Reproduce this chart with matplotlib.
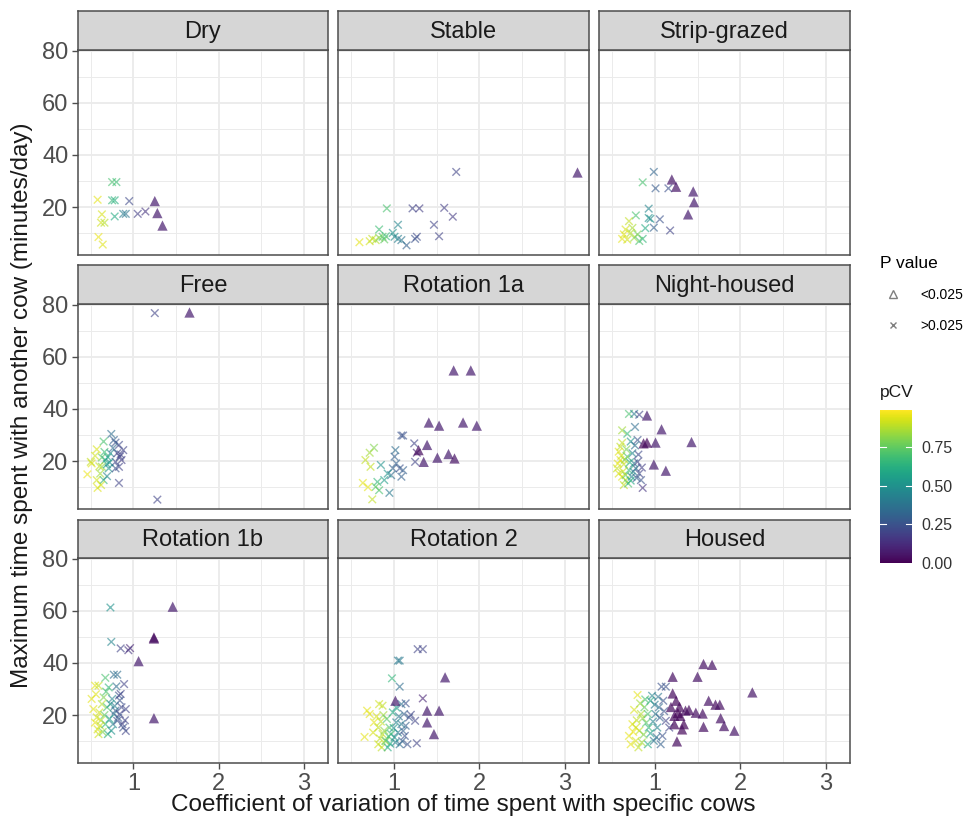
import matplotlib
matplotlib.use("Agg")
import matplotlib.pyplot as plt
from matplotlib.colors import Normalize
from matplotlib.cm import ScalarMappable
from matplotlib.lines import Line2D

plt.rcParams['font.family'] = ['Liberation Sans', 'DejaVu Sans']

# each point: (coefficient of variation, max minutes/day, pCV, significant)
dry = [(0.58, 22.8, 0.95, 0), (0.63, 17.2, 0.93, 0), (0.62, 14.0, 0.92, 0), (0.66, 14.0, 0.88, 0),
       (0.59, 8.5, 0.96, 0), (0.64, 5.6, 0.94, 0), (0.75, 29.6, 0.70, 0), (0.80, 29.6, 0.68, 0),
       (0.75, 22.6, 0.66, 0), (0.78, 22.6, 0.62, 0), (0.78, 16.4, 0.60, 0), (0.88, 17.4, 0.42, 0),
       (0.91, 17.4, 0.38, 0), (0.95, 22.3, 0.22, 0), (1.05, 17.4, 0.18, 0), (1.14, 18.3, 0.15, 0),
       (1.25, 22.3, 0.08, 1), (1.28, 17.7, 0.08, 1), (1.34, 12.9, 0.08, 1)]

stable = [(3.14, 33.6, 0.08, 1), (1.73, 33.5, 0.20, 0), (0.92, 19.5, 0.70, 0), (1.22, 19.5, 0.20, 0),
          (1.30, 19.5, 0.18, 0), (1.59, 19.7, 0.18, 0), (1.69, 16.3, 0.17, 0), (1.47, 13.2, 0.20, 0),
          (1.05, 13.2, 0.45, 0), (0.83, 11.4, 0.68, 0), (1.53, 8.8, 0.20, 0), (1.27, 8.6, 0.22, 0),
          (1.25, 7.8, 0.25, 0), (1.15, 5.3, 0.30, 0), (0.60, 6.5, 0.95, 0), (0.72, 6.9, 0.92, 0),
          (0.75, 7.8, 0.90, 0), (0.79, 7.3, 0.88, 0), (0.83, 8.2, 0.80, 0), (0.87, 8.6, 0.72, 0),
          (0.91, 8.8, 0.66, 0), (0.99, 10.1, 0.50, 0), (1.01, 8.6, 0.48, 0), (1.05, 7.8, 0.42, 0),
          (1.09, 7.3, 0.38, 0), (0.89, 7.6, 0.75, 0)]

strip_grazed = [(0.99, 33.5, 0.32, 0), (0.86, 29.5, 0.70, 0), (1.01, 27.2, 0.28, 0), (1.16, 27.2, 0.24, 0),
                (1.20, 30.6, 0.06, 1), (1.25, 27.8, 0.06, 1), (1.45, 26.0, 0.08, 1), (1.46, 21.9, 0.08, 1),
                (1.39, 17.2, 0.08, 1), (0.93, 19.4, 0.45, 0), (0.93, 15.8, 0.50, 0), (0.95, 15.5, 0.48, 0),
                (1.06, 15.3, 0.25, 0), (0.99, 12.1, 0.30, 0), (1.18, 11.0, 0.20, 0), (0.89, 11.9, 0.60, 0),
                (0.86, 7.8, 0.65, 0), (0.78, 16.8, 0.70, 0), (0.62, 7.8, 0.95, 0), (0.66, 11.4, 0.93, 0),
                (0.70, 14.6, 0.90, 0), (0.64, 9.5, 0.94, 0), (0.72, 10.1, 0.88, 0), (0.74, 12.0, 0.86, 0),
                (0.76, 8.2, 0.84, 0), (0.80, 9.5, 0.78, 0), (0.82, 7.0, 0.70, 0), (0.68, 7.5, 0.92, 0)]

free = [(1.25, 76.8, 0.20, 0), (1.65, 77.3, 0.08, 1), (1.28, 5.2, 0.20, 0), (0.74, 30.4, 0.35, 0),
        (0.57, 24.5, 0.93, 0), (0.51, 19.1, 0.95, 0), (0.46, 14.9, 0.96, 0), (0.57, 12.7, 0.92, 0),
        (0.58, 9.7, 0.94, 0), (0.50, 19.7, 0.90, 0), (0.63, 17.8, 0.82, 0), (0.61, 15.2, 0.85, 0),
        (0.65, 27.5, 0.70, 0), (0.63, 21.4, 0.75, 0), (0.67, 20.4, 0.60, 0), (0.69, 18.8, 0.55, 0),
        (0.65, 12.7, 0.65, 0), (0.71, 17.2, 0.50, 0), (0.69, 14.2, 0.45, 0), (0.73, 23.0, 0.45, 0),
        (0.79, 27.1, 0.25, 0), (0.83, 26.2, 0.22, 0), (0.88, 24.2, 0.20, 0), (0.81, 23.0, 0.20, 0),
        (0.86, 20.4, 0.18, 0), (0.79, 19.7, 0.22, 0), (0.83, 17.8, 0.20, 0), (0.79, 17.2, 0.25, 0),
        (0.83, 11.6, 0.20, 0), (0.84, 21.7, 0.20, 0), (0.77, 28.1, 0.30, 0),
        (0.55, 22.0, 0.92, 0), (0.60, 18.0, 0.90, 0), (0.66, 23.5, 0.68, 0), (0.70, 21.5, 0.58, 0),
        (0.72, 19.5, 0.50, 0), (0.76, 25.0, 0.35, 0), (0.85, 22.5, 0.20, 0), (0.62, 10.8, 0.92, 0)]

rotation_1a = [(1.70, 54.8, 0.08, 1), (1.90, 54.8, 0.08, 1), (1.41, 34.8, 0.08, 1), (1.53, 33.6, 0.08, 1),
               (1.81, 34.8, 0.08, 1), (1.97, 33.6, 0.08, 1), (1.39, 26.2, 0.08, 1), (1.29, 24.2, 0.03, 1),
               (1.35, 19.7, 0.08, 1), (1.51, 21.3, 0.08, 1), (1.64, 22.7, 0.08, 1), (1.71, 21.0, 0.05, 1),
               (1.09, 29.8, 0.25, 0), (1.11, 29.8, 0.25, 0), (1.24, 26.8, 0.20, 0), (1.25, 19.7, 0.20, 0),
               (1.27, 23.2, 0.10, 0), (1.02, 24.2, 0.35, 0), (1.01, 21.7, 0.30, 0), (1.03, 19.1, 0.30, 0),
               (0.99, 17.2, 0.30, 0), (1.07, 17.2, 0.25, 0), (1.11, 16.5, 0.30, 0), (1.09, 14.0, 0.30, 0),
               (0.97, 14.6, 0.35, 0), (0.93, 15.2, 0.50, 0), (0.89, 12.7, 0.55, 0), (0.95, 7.8, 0.40, 0),
               (0.85, 18.5, 0.50, 0), (0.81, 12.0, 0.65, 0), (0.83, 8.8, 0.70, 0), (0.79, 10.1, 0.75, 0),
               (0.77, 25.1, 0.80, 0), (0.67, 20.4, 0.90, 0), (0.73, 17.8, 0.90, 0), (0.64, 11.6, 0.95, 0),
               (0.70, 10.0, 0.95, 0), (0.75, 5.3, 0.90, 0), (0.72, 23.2, 0.85, 0)]

night_housed = [(0.91, 37.5, 0.08, 1), (1.08, 32.2, 0.08, 1), (0.91, 27.1, 0.02, 1), (1.01, 27.1, 0.08, 1),
                (1.43, 27.3, 0.08, 1), (0.99, 18.7, 0.08, 1), (1.13, 16.3, 0.08, 1), (0.87, 26.8, 0.02, 1),
                (0.70, 38.1, 0.70, 0), (0.76, 38.1, 0.40, 0), (0.82, 37.8, 0.20, 0), (0.62, 31.8, 0.85, 0),
                (0.68, 30.5, 0.65, 0), (0.77, 33.1, 0.35, 0), (0.80, 28.1, 0.25, 0), (0.72, 27.5, 0.50, 0),
                (0.58, 23.6, 0.95, 0), (0.60, 20.4, 0.95, 0), (0.56, 17.2, 0.90, 0), (0.62, 14.0, 0.95, 0),
                (0.64, 10.8, 0.90, 0), (0.58, 15.2, 0.93, 0), (0.61, 22.0, 0.92, 0), (0.64, 18.8, 0.90, 0),
                (0.66, 12.7, 0.88, 0), (0.68, 21.7, 0.70, 0), (0.70, 16.5, 0.65, 0), (0.66, 14.6, 0.75, 0),
                (0.69, 11.4, 0.70, 0), (0.74, 23.0, 0.45, 0), (0.76, 19.1, 0.40, 0), (0.73, 14.0, 0.45, 0),
                (0.80, 19.7, 0.20, 0), (0.82, 15.2, 0.20, 0), (0.84, 12.7, 0.25, 0), (0.86, 9.7, 0.15, 0),
                (0.78, 17.2, 0.30, 0),
                (0.57, 19.0, 0.95, 0), (0.60, 25.5, 0.90, 0), (0.63, 16.0, 0.92, 0), (0.65, 20.5, 0.85, 0),
                (0.67, 24.5, 0.78, 0), (0.71, 19.5, 0.60, 0), (0.72, 12.5, 0.60, 0), (0.75, 16.0, 0.42, 0),
                (0.77, 26.0, 0.35, 0), (0.79, 13.5, 0.30, 0), (0.81, 22.5, 0.22, 0), (0.85, 17.5, 0.18, 0),
                (0.62, 27.0, 0.90, 0)]

rotation_1b = [(1.46, 61.6, 0.08, 1), (1.24, 49.8, 0.02, 1), (1.24, 49.4, 0.04, 1), (1.06, 40.7, 0.08, 1),
               (1.24, 18.8, 0.08, 1), (0.73, 61.3, 0.50, 0), (0.74, 48.1, 0.45, 0), (0.85, 45.6, 0.20, 0),
               (0.96, 45.7, 0.10, 0), (0.94, 44.9, 0.15, 0), (0.77, 35.5, 0.35, 0), (0.81, 35.5, 0.35, 0),
               (0.89, 31.9, 0.20, 0), (0.91, 22.3, 0.20, 0), (0.91, 13.9, 0.20, 0), (0.55, 31.3, 0.95, 0),
               (0.59, 31.3, 0.90, 0), (0.51, 26.2, 0.95, 0), (0.53, 22.3, 0.95, 0), (0.57, 19.1, 0.93, 0),
               (0.61, 15.9, 0.90, 0), (0.59, 12.7, 0.92, 0), (0.55, 17.1, 0.95, 0), (0.63, 24.2, 0.88, 0),
               (0.67, 34.3, 0.70, 0), (0.65, 26.8, 0.80, 0), (0.69, 23.0, 0.70, 0), (0.67, 16.5, 0.65, 0),
               (0.70, 12.7, 0.60, 0), (0.71, 30.6, 0.65, 0), (0.75, 26.2, 0.45, 0), (0.77, 20.4, 0.40, 0),
               (0.76, 16.5, 0.45, 0), (0.73, 24.2, 0.50, 0), (0.83, 27.5, 0.25, 0), (0.85, 28.1, 0.20, 0),
               (0.81, 17.8, 0.25, 0), (0.87, 16.5, 0.20, 0), (0.79, 21.7, 0.30, 0), (0.84, 20.4, 0.20, 0),
               (0.84, 25.6, 0.25, 0), (0.88, 15.2, 0.25, 0),
               (0.56, 28.0, 0.94, 0), (0.60, 21.0, 0.92, 0), (0.62, 18.0, 0.90, 0), (0.58, 14.5, 0.93, 0),
               (0.66, 20.0, 0.75, 0), (0.68, 29.0, 0.70, 0), (0.72, 18.5, 0.55, 0), (0.74, 14.0, 0.50, 0),
               (0.78, 23.5, 0.40, 0), (0.80, 31.0, 0.35, 0), (0.82, 19.0, 0.28, 0), (0.86, 23.0, 0.22, 0),
               (0.90, 18.0, 0.20, 0), (0.64, 13.5, 0.80, 0)]

rotation_2 = [(1.60, 34.5, 0.08, 1), (1.02, 25.5, 0.08, 1), (1.39, 21.7, 0.08, 1), (1.53, 21.7, 0.08, 1),
              (1.39, 17.2, 0.08, 1), (1.47, 12.7, 0.08, 1), (1.28, 45.3, 0.20, 0), (1.34, 45.3, 0.20, 0),
              (1.05, 40.9, 0.40, 0), (1.07, 40.9, 0.40, 0), (0.98, 34.1, 0.65, 0), (1.07, 30.9, 0.35, 0),
              (1.34, 26.4, 0.10, 0), (1.14, 24.5, 0.25, 0), (1.20, 20.1, 0.20, 0), (1.25, 17.8, 0.20, 0),
              (1.27, 9.2, 0.20, 0), (1.14, 15.9, 0.30, 0), (1.12, 20.4, 0.30, 0), (1.09, 24.2, 0.35, 0),
              (0.72, 20.4, 0.95, 0), (0.83, 24.2, 0.92, 0), (0.87, 23.6, 0.90, 0), (0.77, 17.2, 0.95, 0),
              (0.66, 11.6, 0.95, 0), (0.76, 13.3, 0.93, 0), (0.82, 8.8, 0.92, 0), (0.86, 7.6, 0.90, 0),
              (0.82, 15.2, 0.90, 0), (0.87, 12.7, 0.88, 0), (0.90, 10.1, 0.85, 0), (0.69, 21.7, 0.95, 0),
              (0.95, 15.2, 0.70, 0), (0.97, 12.7, 0.65, 0), (0.93, 7.6, 0.60, 0), (0.91, 10.1, 0.75, 0),
              (0.99, 21.0, 0.60, 0), (1.03, 22.9, 0.55, 0), (1.03, 17.2, 0.45, 0), (1.05, 13.3, 0.40, 0),
              (1.07, 8.8, 0.35, 0), (1.01, 11.4, 0.50, 0), (1.09, 16.5, 0.40, 0), (1.11, 13.9, 0.30, 0),
              (1.16, 8.8, 0.25, 0), (1.18, 19.1, 0.25, 0), (1.13, 12.0, 0.25, 0),
              (0.80, 19.5, 0.93, 0), (0.85, 17.5, 0.90, 0), (0.88, 20.0, 0.85, 0), (0.84, 11.0, 0.90, 0),
              (0.92, 18.5, 0.72, 0), (0.94, 11.8, 0.68, 0), (0.96, 9.0, 0.60, 0), (1.00, 15.0, 0.52, 0),
              (1.02, 9.5, 0.45, 0), (1.06, 19.5, 0.38, 0), (1.10, 10.0, 0.30, 0), (0.89, 14.0, 0.82, 0)]

housed = [(1.57, 39.6, 0.05, 1), (1.67, 39.3, 0.05, 1), (1.50, 34.7, 0.05, 1), (1.21, 34.7, 0.04, 1),
          (2.14, 28.7, 0.06, 1), (1.21, 28.3, 0.03, 1), (1.63, 25.5, 0.05, 1), (1.71, 24.0, 0.03, 1),
          (1.76, 24.0, 0.04, 1), (1.29, 23.2, 0.02, 1), (1.36, 21.7, 0.03, 1), (1.48, 20.9, 0.04, 1),
          (1.56, 20.6, 0.04, 1), (1.23, 19.7, 0.02, 1), (1.77, 18.8, 0.05, 1), (1.81, 15.8, 0.05, 1),
          (1.93, 14.0, 0.06, 1), (1.57, 15.5, 0.04, 1), (1.34, 16.5, 0.01, 1), (1.26, 9.9, 0.03, 1),
          (1.19, 23.1, 0.03, 1), (1.30, 19.7, 0.02, 1), (1.23, 16.5, 0.02, 1), (1.25, 25.5, 0.02, 1),
          (1.32, 14.5, 0.02, 1), (1.40, 22.0, 0.03, 1), (1.27, 20.8, 0.01, 1),
          (0.80, 27.7, 0.95, 0), (0.74, 16.5, 0.95, 0), (0.70, 12.0, 0.95, 0), (0.78, 10.1, 0.93, 0),
          (0.81, 7.6, 0.90, 0), (0.72, 8.8, 0.95, 0), (0.82, 14.0, 0.90, 0), (0.84, 20.4, 0.88, 0),
          (0.86, 18.8, 0.85, 0), (0.78, 15.2, 0.92, 0), (0.88, 23.0, 0.75, 0), (0.92, 20.4, 0.70, 0),
          (0.93, 15.2, 0.65, 0), (0.92, 8.8, 0.60, 0), (0.95, 25.5, 0.60, 0), (0.97, 27.4, 0.45, 0),
          (1.01, 20.4, 0.40, 0), (1.03, 15.2, 0.45, 0), (0.99, 10.1, 0.40, 0), (1.05, 23.0, 0.35, 0),
          (1.08, 30.9, 0.25, 0), (1.13, 30.9, 0.25, 0), (1.10, 25.5, 0.25, 0), (1.13, 17.8, 0.20, 0),
          (1.09, 12.0, 0.25, 0), (1.17, 15.2, 0.20, 0), (1.07, 8.8, 0.30, 0),
          (0.76, 22.0, 0.93, 0), (0.83, 24.5, 0.85, 0), (0.87, 12.5, 0.80, 0), (0.90, 17.0, 0.72, 0),
          (0.95, 13.0, 0.55, 0), (0.98, 17.5, 0.45, 0), (1.00, 24.0, 0.40, 0), (1.02, 11.5, 0.35, 0),
          (1.06, 19.0, 0.30, 0), (1.11, 21.5, 0.25, 0), (1.04, 27.0, 0.38, 0), (0.85, 9.5, 0.85, 0),
          (0.75, 13.5, 0.97, 0), (0.79, 18.0, 0.90, 0), (0.89, 26.0, 0.70, 0)]

panel_names = ['Dry', 'Stable', 'Strip-grazed', 'Free', 'Rotation 1a', 'Night-housed',
               'Rotation 1b', 'Rotation 2', 'Housed']
panel_data = [dry, stable, strip_grazed, free, rotation_1a, night_housed,
              rotation_1b, rotation_2, housed]

x_ticks = [1, 2, 3]
y_ticks = [20, 40, 60, 80]
pcv_ticks = [0.0, 0.25, 0.50, 0.75]

W, H = 966, 824
fig = plt.figure(figsize=(W / 100, H / 100), dpi=100)
fig.patch.set_facecolor('white')


def rect(x0, y0, x1, y1):
    return [x0 / W, 1 - y1 / H, (x1 - x0) / W, (y1 - y0) / H]


cols = [(78, 328), (338, 589), (599, 850)]
rows = [(11, 50, 255), (265, 304, 509), (520, 558, 763)]
norm = Normalize(0, 0.99)
cmap = plt.get_cmap('viridis')
border = '#4d4d4d'

for i, (name, pts) in enumerate(zip(panel_names, panel_data)):
    r, c = divmod(i, 3)
    x0, x1 = cols[c]
    st, pt, pb = rows[r]

    ax = fig.add_axes(rect(x0, pt, x1, pb))
    ax.set_xlim(0.35, 3.28)
    ax.set_ylim(1.6, 80.3)
    ax.set_xticks(x_ticks)
    ax.set_yticks(y_ticks)
    ax.set_xticks([0.5, 1.5, 2.5], minor=True)
    ax.set_yticks([10, 30, 50, 70], minor=True)
    ax.grid(which='major', color='#EBEBEB', lw=1.3)
    ax.grid(which='minor', color='#EBEBEB', lw=0.7)
    ax.set_axisbelow(True)
    for sp in ax.spines.values():
        sp.set_color(border)
        sp.set_linewidth(1.1)
    ax.tick_params(which='minor', length=0)
    ax.tick_params(which='major', colors=border, labelcolor='#4d4d4d', labelsize=17, length=4, width=1.0, pad=3)
    if c != 0:
        ax.tick_params(axis='y', length=0, labelleft=False)
    if r != 2:
        ax.tick_params(axis='x', length=0, labelbottom=False)

    cross = [p for p in pts if p[3] == 0]
    tri = [p for p in pts if p[3] == 1]
    if cross:
        ax.scatter([p[0] for p in cross], [p[1] for p in cross], c=[p[2] for p in cross],
                   cmap=cmap, norm=norm, marker='x', s=30, linewidths=1.0, alpha=0.6)
    if tri:
        ax.scatter([p[0] for p in tri], [p[1] for p in tri], c=[p[2] for p in tri],
                   cmap=cmap, norm=norm, marker='^', s=55, linewidths=0, alpha=0.7)

    sax = fig.add_axes(rect(x0, st, x1, pt))
    sax.set_facecolor('#D6D6D6')
    sax.set_xticks([])
    sax.set_yticks([])
    for sp in sax.spines.values():
        sp.set_color(border)
        sp.set_linewidth(1.1)
    sax.text(0.5, 0.47, name, ha='center', va='center', fontsize=17, color='#1a1a1a',
             transform=sax.transAxes)

fig.text(22 / W, 1 - 405 / H, 'Maximum time spent with another cow (minutes/day)',
         rotation=90, ha='center', va='center', fontsize=17.5, color='#1a1a1a')
fig.text(463 / W, 1 - 805 / H, 'Coefficient of variation of time spent with specific cows',
         ha='center', va='center', fontsize=17.5, color='#1a1a1a')

# shape legend
handles = [Line2D([], [], ls='none', marker='^', mfc='none', mec='#7f7f7f', ms=6, mew=1.0),
           Line2D([], [], ls='none', marker='x', color='#7f7f7f', ms=5, mew=1.0)]
leg = fig.legend(handles, ['<0.025', '>0.025'], title='P value', loc='upper left',
                 bbox_to_anchor=(874 / W, 1 - 250 / H), frameon=False, fontsize=10,
                 title_fontsize=12.5, alignment='left', labelspacing=1.25, handletextpad=0.95,
                 borderaxespad=0)

# colour bar
cax = fig.add_axes(rect(880, 410, 912, 563))
cb = fig.colorbar(ScalarMappable(norm=norm, cmap=cmap), cax=cax, ticks=pcv_ticks)
cb.outline.set_visible(False)
cb.ax.set_yticklabels(['0.00', '0.25', '0.50', '0.75'])
cax.tick_params(length=0, labelsize=11.5, pad=7, labelcolor='#333333')
for t in pcv_ticks[1:]:
    cax.axhline(t, xmin=0, xmax=0.2, color='white', lw=0.8)
    cax.axhline(t, xmin=0.8, xmax=1, color='white', lw=0.8)
fig.text(880 / W, 1 - 392 / H, 'pCV', ha='left', va='center', fontsize=12.5, color='#1a1a1a')

fig.savefig('out.png', dpi=100)
